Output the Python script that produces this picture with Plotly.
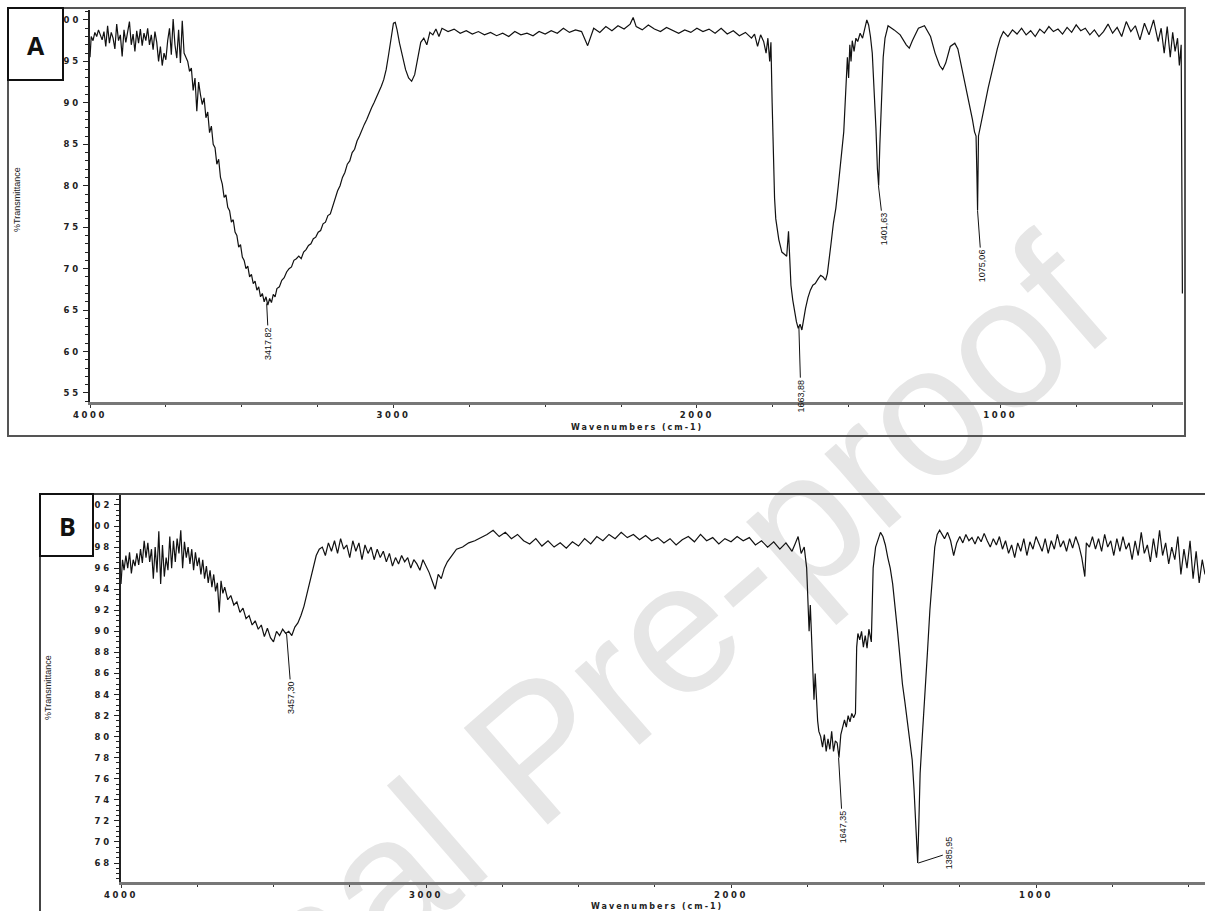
import plotly.graph_objects as go

# ---------------- data ----------------
# Spectrum A : (wavenumber cm-1, %Transmittance)
spectrum_A = [
    (4000, 95.5), (3996, 98.0), (3990, 97.5), (3984, 98.5), (3978, 98.0), (3972, 98.8),
    (3966, 98.2), (3960, 97.6), (3954, 98.6), (3948, 96.8), (3942, 99.3), (3936, 97.2),
    (3930, 98.5), (3924, 97.8), (3918, 96.5), (3912, 99.5), (3906, 97.5), (3900, 98.2),
    (3894, 95.6), (3888, 98.8), (3882, 97.3), (3876, 98.5), (3870, 99.8), (3864, 97.0),
    (3858, 98.3), (3852, 96.2), (3846, 98.7), (3840, 97.2), (3834, 98.9), (3828, 96.9),
    (3822, 98.4), (3816, 97.5), (3810, 99.0), (3804, 97.0), (3798, 98.2), (3792, 96.4),
    (3786, 98.6), (3780, 97.3), (3774, 95.0), (3768, 96.8), (3762, 94.5), (3756, 96.0),
    (3750, 95.2), (3744, 97.5), (3738, 99.0), (3732, 95.8), (3726, 100.1), (3720, 97.0),
    (3714, 95.4), (3708, 98.8), (3702, 94.8), (3696, 99.9), (3690, 96.0), (3684, 95.5),
    (3678, 95.0), (3672, 93.8), (3666, 94.2), (3660, 91.5), (3654, 93.0), (3648, 89.0),
    (3642, 92.5), (3636, 91.0), (3630, 89.8), (3624, 90.6), (3618, 88.2), (3612, 88.9),
    (3606, 86.4), (3600, 87.2), (3594, 85.0), (3588, 84.6), (3582, 82.6), (3576, 83.2),
    (3570, 81.0), (3564, 80.2), (3558, 78.6), (3552, 78.9), (3546, 77.4), (3540, 77.0),
    (3534, 75.6), (3528, 75.9), (3522, 74.4), (3516, 74.0), (3510, 72.6), (3504, 72.9),
    (3498, 71.4), (3492, 71.0), (3486, 70.0), (3480, 70.3), (3474, 69.0), (3468, 69.3),
    (3462, 68.2), (3456, 68.5), (3450, 67.4), (3444, 67.8), (3438, 66.6), (3432, 67.0),
    (3426, 66.0), (3420, 66.6), (3414, 65.6), (3408, 66.4), (3402, 65.9), (3396, 66.9),
    (3390, 66.6), (3384, 67.6), (3376, 67.8), (3368, 68.6), (3360, 68.9), (3352, 69.6),
    (3344, 70.0), (3336, 70.2), (3328, 71.0), (3320, 71.2), (3312, 71.5), (3304, 71.2),
    (3296, 72.0), (3288, 72.3), (3280, 72.8), (3272, 73.0), (3264, 73.6), (3256, 73.8),
    (3248, 74.4), (3240, 74.6), (3232, 75.4), (3224, 75.6), (3216, 76.4), (3208, 76.6),
    (3200, 77.6), (3192, 78.4), (3184, 79.4), (3176, 80.0), (3168, 81.0), (3160, 81.6),
    (3152, 82.6), (3144, 83.0), (3136, 84.0), (3128, 84.4), (3120, 85.4), (3112, 86.0),
    (3104, 86.8), (3096, 87.4), (3088, 88.0), (3080, 88.8), (3072, 89.4), (3064, 90.0),
    (3056, 90.6), (3048, 91.2), (3040, 92.0), (3032, 92.8), (3024, 94.0), (3016, 95.8),
    (3008, 98.0), (3000, 99.6), (2994, 99.7), (2988, 98.8), (2980, 97.2), (2970, 95.5),
    (2960, 94.0), (2950, 93.0), (2940, 92.6), (2930, 93.4), (2920, 95.5),
    (2910, 97.3), (2900, 97.8), (2890, 97.0), (2880, 98.5), (2870, 98.2), (2860, 98.9),
    (2850, 98.0), (2840, 99.0), (2820, 98.6), (2800, 98.9), (2780, 98.4), (2760, 98.7),
    (2740, 98.3), (2720, 98.6), (2700, 98.2), (2680, 98.5), (2660, 98.1), (2640, 98.4),
    (2620, 98.0), (2600, 98.6), (2580, 98.2), (2560, 98.4), (2540, 98.1), (2520, 98.6),
    (2500, 98.3), (2480, 98.7), (2460, 98.4), (2440, 99.0), (2420, 98.5), (2400, 98.8),
    (2380, 98.6), (2360, 96.9), (2340, 99.0), (2320, 98.5), (2300, 99.2), (2280, 98.7),
    (2260, 99.3), (2240, 98.9), (2220, 99.5), (2210, 100.3), (2200, 99.2), (2180, 98.8),
    (2160, 99.4), (2140, 98.9), (2120, 98.6), (2100, 99.1), (2080, 98.7), (2060, 98.4),
    (2040, 98.8), (2020, 98.5), (2000, 99.0), (1980, 98.6), (1960, 98.9), (1940, 98.4),
    (1920, 99.0), (1900, 98.3), (1880, 98.7), (1860, 98.1), (1840, 98.5), (1820, 97.8),
    (1810, 98.3), (1800, 96.8), (1790, 98.2), (1780, 97.4), (1772, 96.0), (1766, 97.8),
    (1760, 95.0), (1756, 97.3), (1752, 90.0), (1748, 84.0), (1744, 78.5), (1740, 76.0),
    (1730, 73.5), (1720, 72.0), (1712, 71.8), (1704, 71.5), (1698, 74.5), (1694, 71.0),
    (1690, 68.0), (1684, 66.2), (1678, 64.8), (1672, 63.6), (1666, 62.8), (1660, 63.3),
    (1654, 62.6), (1648, 64.0), (1642, 65.2), (1634, 66.5), (1626, 67.4), (1618, 68.0),
    (1610, 68.2), (1600, 68.8), (1592, 69.2), (1584, 69.0), (1576, 68.6), (1570, 69.4),
    (1564, 71.5), (1558, 73.0), (1550, 75.5), (1542, 77.3), (1534, 80.0), (1528, 82.0),
    (1522, 84.5), (1516, 86.5), (1512, 89.5), (1508, 92.0), (1504, 95.5), (1500, 93.0),
    (1496, 97.0), (1492, 95.0), (1488, 97.5), (1482, 96.2), (1476, 97.8), (1470, 97.4),
    (1462, 98.4), (1454, 97.8), (1446, 99.0), (1440, 100.0), (1434, 99.4), (1428, 98.0),
    (1422, 96.0), (1416, 92.0), (1410, 87.0), (1405, 82.0), (1401, 80.0), (1397, 85.0),
    (1392, 91.0), (1386, 95.5), (1380, 97.8), (1370, 99.3), (1350, 98.8), (1330, 98.2),
    (1310, 97.0), (1300, 96.6), (1290, 97.5), (1270, 99.0), (1250, 99.3), (1230, 98.0),
    (1215, 96.0), (1200, 94.5), (1190, 94.0), (1180, 94.8), (1165, 96.8), (1150, 97.2),
    (1140, 96.5), (1130, 94.8), (1120, 93.0), (1110, 91.2), (1100, 89.5), (1092, 88.0),
    (1085, 86.5), (1080, 86.0), (1077, 81.0), (1075, 77.0), (1072, 86.0), (1066, 87.0),
    (1058, 88.5), (1050, 90.0), (1040, 91.8), (1030, 93.5), (1020, 95.0), (1010, 96.5),
    (1000, 97.8), (990, 98.6), (975, 98.0), (960, 98.8), (945, 98.3), (930, 99.0),
    (915, 98.2), (900, 98.7), (885, 98.0), (870, 98.9), (855, 98.4), (840, 99.2),
    (825, 98.6), (810, 98.9), (795, 98.3), (780, 99.1), (765, 98.5), (750, 99.4),
    (735, 98.7), (720, 99.0), (705, 98.2), (690, 98.8), (675, 98.0), (660, 98.6),
    (645, 99.5), (630, 98.4), (615, 99.1), (600, 98.0), (585, 99.8), (570, 98.6),
    (555, 99.3), (540, 97.6), (525, 99.6), (510, 98.2), (495, 100.0), (480, 97.4),
    (470, 99.0), (460, 96.0), (450, 99.2), (440, 95.5), (432, 98.5), (424, 96.2),
    (416, 97.8), (410, 94.5), (404, 97.0), (400, 67.0),
]

# Spectrum B : (wavenumber cm-1, %Transmittance)
spectrum_B = [
    (4000, 94.5), (3995, 96.8), (3990, 95.8), (3984, 97.2), (3978, 96.0), (3972, 97.5),
    (3966, 95.5), (3960, 96.8), (3954, 96.2), (3948, 97.4), (3942, 96.3), (3936, 97.8),
    (3930, 96.5), (3924, 98.6), (3918, 97.0), (3912, 98.4), (3906, 96.6), (3900, 97.8),
    (3894, 95.0), (3888, 98.0), (3882, 95.6), (3876, 99.5), (3870, 94.5), (3864, 98.2),
    (3858, 95.2), (3852, 97.0), (3846, 95.8), (3840, 99.0), (3834, 96.0), (3828, 98.6),
    (3822, 96.6), (3816, 98.8), (3810, 97.4), (3804, 99.6), (3798, 96.0), (3792, 98.5),
    (3786, 97.0), (3780, 98.0), (3774, 96.4), (3768, 97.8), (3762, 95.8), (3756, 97.5),
    (3750, 96.2), (3744, 97.0), (3738, 95.4), (3732, 96.8), (3726, 95.0), (3720, 96.2),
    (3714, 94.6), (3708, 95.8), (3702, 94.2), (3696, 95.4), (3690, 93.8), (3684, 94.6),
    (3678, 91.8), (3672, 94.8), (3666, 93.6), (3660, 94.2), (3650, 93.0), (3640, 93.4),
    (3630, 92.5), (3620, 92.8), (3610, 91.8), (3600, 92.2), (3590, 91.2), (3580, 91.5),
    (3570, 90.6), (3560, 91.0), (3550, 90.2), (3540, 90.6), (3530, 89.5), (3520, 90.3),
    (3510, 89.4), (3500, 89.0), (3490, 90.0), (3480, 89.6), (3470, 90.2), (3460, 89.8),
    (3450, 90.0), (3440, 89.6), (3430, 90.4), (3420, 90.8), (3410, 91.5), (3400, 92.4),
    (3390, 93.6), (3380, 94.8), (3370, 96.0), (3360, 97.2), (3350, 97.8), (3340, 98.0),
    (3330, 97.2), (3320, 98.4), (3310, 97.6), (3300, 98.6), (3290, 97.4), (3280, 98.8),
    (3270, 97.8), (3260, 98.2), (3250, 97.0), (3240, 98.6), (3230, 97.6), (3220, 98.4),
    (3210, 96.8), (3200, 98.2), (3190, 97.4), (3180, 98.0), (3170, 96.8), (3160, 97.8),
    (3150, 97.0), (3140, 97.6), (3130, 96.6), (3120, 97.4), (3110, 96.2), (3100, 97.0),
    (3090, 96.4), (3080, 97.2), (3070, 96.6), (3060, 97.0), (3050, 96.0), (3040, 96.8),
    (3030, 96.4), (3020, 95.8), (3010, 96.8), (3000, 96.2), (2990, 95.6), (2980, 94.8),
    (2970, 94.0), (2960, 95.4), (2950, 95.0), (2940, 96.0), (2930, 96.6), (2920, 97.0),
    (2910, 97.4), (2900, 97.8), (2880, 98.0), (2860, 98.4), (2840, 98.6), (2820, 98.9),
    (2800, 99.2), (2780, 99.6), (2760, 99.0), (2740, 99.4), (2720, 98.8), (2700, 99.2),
    (2680, 98.6), (2660, 98.3), (2640, 98.8), (2620, 98.1), (2600, 98.6), (2580, 98.0),
    (2560, 98.4), (2540, 97.9), (2520, 98.5), (2500, 98.1), (2480, 98.8), (2460, 98.3),
    (2440, 99.0), (2420, 98.6), (2400, 99.2), (2380, 98.8), (2360, 99.4), (2340, 98.9),
    (2320, 99.2), (2300, 98.7), (2280, 99.1), (2260, 98.6), (2240, 98.9), (2220, 98.4),
    (2200, 98.8), (2180, 98.2), (2160, 98.7), (2140, 99.0), (2120, 98.5), (2100, 99.2),
    (2080, 98.6), (2060, 98.9), (2040, 98.3), (2020, 98.8), (2000, 98.5), (1980, 99.0),
    (1960, 98.6), (1940, 98.9), (1920, 98.2), (1900, 98.6), (1880, 98.0), (1860, 98.5),
    (1840, 97.8), (1820, 98.4), (1800, 97.6), (1790, 98.3), (1780, 99.0), (1770, 97.4),
    (1760, 98.0), (1752, 96.0), (1748, 93.0), (1744, 90.0), (1740, 92.5), (1736, 89.0),
    (1732, 86.5), (1728, 83.5), (1724, 86.0), (1720, 83.0), (1716, 81.5), (1712, 80.5),
    (1706, 80.0), (1700, 79.0), (1694, 80.2), (1688, 78.6), (1682, 79.8), (1676, 78.8),
    (1670, 80.5), (1664, 78.6), (1658, 79.6), (1652, 79.4), (1646, 78.0), (1640, 80.2),
    (1634, 80.8), (1628, 81.6), (1622, 80.9), (1616, 82.0), (1610, 81.4), (1604, 82.2),
    (1598, 81.8), (1592, 82.2), (1588, 88.5), (1584, 89.8), (1578, 89.2), (1572, 90.0),
    (1566, 88.5), (1560, 89.6), (1554, 88.4), (1548, 90.2), (1540, 89.0), (1534, 96.0),
    (1526, 98.0), (1518, 98.8), (1510, 99.4), (1502, 99.0), (1494, 98.2), (1486, 97.0),
    (1478, 96.0), (1470, 94.5), (1462, 92.5), (1454, 90.0), (1446, 87.5), (1438, 85.0),
    (1430, 83.3), (1422, 81.5), (1414, 79.5), (1406, 77.8), (1400, 75.0), (1394, 71.5),
    (1388, 68.0), (1384, 72.0), (1380, 76.5), (1374, 79.5), (1368, 82.0), (1362, 84.5),
    (1356, 88.0), (1348, 92.0), (1340, 95.5), (1332, 98.0), (1324, 99.2), (1316, 99.6),
    (1300, 98.8), (1290, 99.4), (1280, 98.6), (1270, 97.2), (1260, 98.4), (1250, 99.0),
    (1240, 98.4), (1230, 99.2), (1220, 98.6), (1210, 98.9), (1200, 98.3), (1190, 99.0),
    (1180, 98.5), (1170, 99.3), (1160, 98.6), (1150, 98.0), (1140, 98.8), (1130, 98.2),
    (1120, 99.0), (1110, 97.8), (1100, 98.6), (1090, 97.4), (1080, 98.2), (1070, 97.0),
    (1060, 98.4), (1050, 97.6), (1040, 98.8), (1030, 97.2), (1020, 98.5), (1010, 97.8),
    (1000, 99.0), (990, 98.2), (980, 97.6), (970, 98.8), (960, 97.4), (950, 98.6),
    (940, 97.8), (930, 99.2), (920, 98.0), (910, 98.6), (900, 97.6), (890, 98.8),
    (880, 97.9), (870, 99.0), (860, 98.2), (850, 97.0), (840, 95.2), (835, 98.4),
    (825, 98.0), (815, 99.0), (805, 97.8), (795, 98.8), (785, 97.6), (775, 99.2),
    (765, 98.0), (755, 98.6), (745, 97.2), (735, 98.8), (725, 97.6), (715, 99.0),
    (705, 97.8), (695, 98.4), (685, 96.8), (675, 98.6), (665, 97.2), (655, 99.4),
    (645, 97.4), (635, 98.2), (625, 96.6), (615, 98.8), (605, 97.0), (595, 99.6),
    (585, 97.2), (575, 98.4), (565, 96.4), (555, 98.0), (545, 96.8), (535, 99.0),
    (525, 95.4), (515, 97.8), (505, 96.0), (495, 98.6), (485, 95.0), (475, 97.6),
    (465, 94.6), (455, 96.8), (446, 95.4),
]

# Peak labels: wavenumber, %T at the marked point, label text
peaks_A_wn = [3417.82, 1663.88, 1401.63, 1075.06]
peaks_A_T = [65.8, 63.0, 80.0, 77.0]
peaks_A_text = ["3417,82", "1663,88", "1401,63", "1075,06"]

peaks_B_wn = [3457.30, 1647.35, 1385.95]
peaks_B_T = [89.8, 78.0, 68.0]
peaks_B_text = ["3457,30", "1647,35", "1385,95"]

# tick values / labels
x_ticks = [4000, 3000, 2000, 1000]
x_ticktext = ["4000", "3000", "2000", "1000"]
yA_ticks = [55, 60, 65, 70, 75, 80, 85, 90, 95, 100]
yB_ticks = [68, 70, 72, 74, 76, 78, 80, 82, 84, 86, 88, 90, 92, 94, 96, 98, 100, 102]

# ---------------- layout helpers (pixel -> paper) ----------------
W, H = 1205, 911


def px(x):
    return x / W


def py(y):
    return 1 - y / H


def spaced(s, sp=2.2):
    return "<span style='letter-spacing:%spx'>%s</span>" % (sp, s)


wnA = [p[0] for p in spectrum_A]
tA = [p[1] for p in spectrum_A]
wnB = [p[0] for p in spectrum_B]
tB = [p[1] for p in spectrum_B]

fig = go.Figure()
fig.add_trace(go.Scatter(x=wnA, y=tA, mode="lines", line=dict(color="#111", width=1.2),
                         xaxis="x", yaxis="y", hoverinfo="skip"))
fig.add_trace(go.Scatter(x=wnB, y=tB, mode="lines", line=dict(color="#111", width=1.2),
                         xaxis="x2", yaxis="y2", hoverinfo="skip"))

tickfont = dict(family="DejaVu Sans", size=8.5, color="#222", weight="bold")

common_x = dict(
    tickvals=x_ticks, ticktext=[spaced(t, 2.6) for t in x_ticktext], ticks="outside", ticklen=3,
    tickcolor="#333", showgrid=False, zeroline=False, showline=True, linecolor="#777",
    linewidth=3, tickfont=tickfont, automargin=False,
    minor=dict(dtick=250, tick0=0, ticks="outside", ticklen=2, tickcolor="#333"),
)
common_y = dict(
    ticks="outside", ticklen=5, tickcolor="#222", showgrid=False, zeroline=False,
    showline=True, linecolor="#222", linewidth=2, tickfont=tickfont, automargin=False,
)

fig.update_layout(
    width=W, height=H, margin=dict(l=0, r=0, t=0, b=0, pad=0, autoexpand=False),
    paper_bgcolor="white", plot_bgcolor="rgba(0,0,0,0)", showlegend=False,
    xaxis=dict(domain=[px(90), px(1183)], range=[4000, 398], anchor="y", **common_x),
    yaxis=dict(domain=[py(402), py(10)], range=[53.91, 101.2], anchor="x",
               tickvals=yA_ticks, ticktext=[spaced(str(v), 3.0) for v in yA_ticks],
               minor=dict(dtick=1, ticks="outside", ticklen=3, tickcolor="#222"), **common_y),
    xaxis2=dict(domain=[px(121), 1.0], range=[4000, 446], anchor="y2", **common_x),
    yaxis2=dict(domain=[py(882), py(494)], range=[66.2, 103.04], anchor="x2",
                tickvals=yB_ticks, ticktext=[spaced(str(v), 3.0) for v in yB_ticks],
                minor=dict(dtick=0.5, ticks="outside", ticklen=3, tickcolor="#222"), **common_y),
)

shapes = []
# watermark (below the traces)
shapes.append(dict(type="rect", xref="paper", yref="paper", layer="below",
                   x0=px(425), x1=px(625), y0=py(785), y1=py(685),
                   line=dict(width=0), fillcolor="rgba(0,0,0,0)",
                   label=dict(text="Journal Pre-proof", textangle=-41, textposition="middle center",
                              font=dict(family="Liberation Sans", size=186, color="#e6e6e6"))))
# panel A outer frame
shapes.append(dict(type="rect", xref="paper", yref="paper", layer="above",
                   x0=px(8), x1=px(1185), y0=py(436), y1=py(8),
                   line=dict(color="#555", width=2), fillcolor="rgba(0,0,0,0)"))
# panel B frame (left and top edges)
shapes.append(dict(type="line", xref="paper", yref="paper", layer="above",
                   x0=px(40), x1=px(40), y0=py(494), y1=py(915), line=dict(color="#444", width=2)))
shapes.append(dict(type="line", xref="paper", yref="paper", layer="above",
                   x0=px(40), x1=px(1210), y0=py(494), y1=py(494), line=dict(color="#444", width=2)))
# label boxes
shapes.append(dict(type="rect", xref="paper", yref="paper", layer="above",
                   x0=px(8), x1=px(63), y0=py(80), y1=py(8),
                   line=dict(color="#111", width=2), fillcolor="white"))
shapes.append(dict(type="rect", xref="paper", yref="paper", layer="above",
                   x0=px(40), x1=px(93), y0=py(556), y1=py(494),
                   line=dict(color="#111", width=2), fillcolor="white"))
fig.update_layout(shapes=shapes)

ann = []
for lab, cx, cy in [("A", 36, 45), ("B", 67, 526)]:
    ann.append(dict(text="<b>%s</b>" % lab, x=px(cx), y=py(cy), xref="paper", yref="paper",
                    xanchor="center", yanchor="middle", showarrow=False,
                    font=dict(family="Open Sans", size=25, color="#111")))
# axis titles
for cx, cy in [(637, 427), (657, 906)]:
    ann.append(dict(text=spaced("Wavenumbers (cm-1)", 2.0), x=px(cx), y=py(cy), xref="paper",
                    yref="paper", xanchor="center", yanchor="middle", showarrow=False,
                    font=dict(family="DejaVu Sans", size=8, color="#222", weight="bold")))
for cx, cy in [(17, 200), (48, 688)]:
    ann.append(dict(text="%Transmittance", x=px(cx), y=py(cy), xref="paper", yref="paper",
                    xanchor="center", yanchor="middle", showarrow=False, textangle=-90,
                    font=dict(family="Liberation Sans", size=9, color="#222")))
# peak labels
offA = [(2, 40), (2, 69), (5, 43), (4, 55)]
for wn, t, txt, (dx, dy) in zip(peaks_A_wn, peaks_A_T, peaks_A_text, offA):
    ann.append(dict(text=txt, x=wn, y=t, xref="x", yref="y", showarrow=True, arrowhead=0,
                    arrowwidth=1, arrowcolor="#111", ax=dx, ay=dy, textangle=-90,
                    font=dict(family="Liberation Sans", size=9, color="#111")))
offB = [(5, 64), (4, 69), (31, -10)]
for wn, t, txt, (dx, dy) in zip(peaks_B_wn, peaks_B_T, peaks_B_text, offB):
    ann.append(dict(text=txt, x=wn, y=t, xref="x2", yref="y2", showarrow=True, arrowhead=0,
                    arrowwidth=1, arrowcolor="#111", ax=dx, ay=dy, textangle=-90,
                    font=dict(family="Liberation Sans", size=9, color="#111")))
fig.update_layout(annotations=ann)

fig.write_html("out.html", config={"displayModeBar": False},
               post_script="document.body.style.margin='0px';")
